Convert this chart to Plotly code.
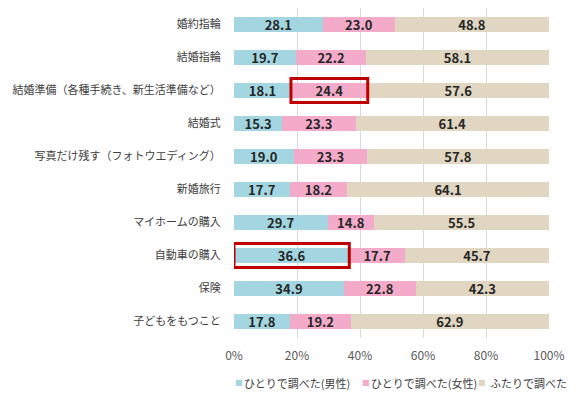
import plotly.graph_objects as go

categories = ["婚約指輪", "結婚指輪", "結婚準備（各種手続き、新生活準備など）", "結婚式",
              "写真だけ残す（フォトウエディング）", "新婚旅行", "マイホームの購入",
              "自動車の購入", "保険", "子どもをもつこと"]
series_names = ["ひとりで調べた(男性)", "ひとりで調べた(女性)", "ふたりで調べた"]
male = [28.1, 19.7, 18.1, 15.3, 19.0, 17.7, 29.7, 36.6, 34.9, 17.8]
female = [23.0, 22.2, 24.4, 23.3, 23.3, 18.2, 14.8, 17.7, 22.8, 19.2]
both = [48.8, 58.1, 57.6, 61.4, 57.8, 64.1, 55.5, 45.7, 42.3, 62.9]
tick_vals = [0, 20, 40, 60, 80, 100]
tick_text = ["0%", "20%", "40%", "60%", "80%", "100%"]
# highlighted cells: (category index, series index)
highlights = [(2, 1), (7, 0)]

colors = ["#a3d6e0", "#f4abca", "#e0d6c1"]
series = [male, female, both]
totals = [m + f + b for m, f, b in zip(male, female, both)]

fig = go.Figure()
for name, vals, col in zip(series_names, series, colors):
    norm = [v / t * 100 for v, t in zip(vals, totals)]
    fig.add_trace(go.Bar(
        y=categories, x=norm, name=name, orientation="h",
        marker=dict(color=col, line=dict(width=0)),
        text=[f"{v:.1f}" for v in vals], textposition="inside",
        insidetextanchor="middle",
        textfont=dict(family="Noto Sans CJK JP", size=13, color="#262626", weight="bold"),
        hoverinfo="skip", showlegend=False,
    ))

half = 0.36
for ci, si in highlights:
    start = sum(series[k][ci] / totals[ci] * 100 for k in range(si))
    end = start + series[si][ci] / totals[ci] * 100
    fig.add_shape(type="rect", xref="x", yref="y",
                  x0=start, x1=end, y0=ci - half, y1=ci + half,
                  line=dict(color="#c00000", width=3), fillcolor="rgba(0,0,0,0)")

# manual legend (small square markers like the original)
marker_x = [0.0143, 0.4206, 0.7873]
text_x = [0.0254, 0.4286, 0.806]
legend_y = -0.136
for name, col, mx, tx in zip(series_names, colors, marker_x, text_x):
    fig.add_annotation(
        xref="paper", yref="paper", x=mx, y=legend_y, xanchor="center", yanchor="middle",
        text="■", showarrow=False,
        font=dict(size=8, color=col, family="DejaVu Sans"),
    )
    fig.add_annotation(
        xref="paper", yref="paper", x=tx, y=legend_y, xanchor="left", yanchor="middle",
        text=name, showarrow=False,
        font=dict(size=11, color="#404040", family="Noto Sans CJK JP"),
    )

fig.update_layout(
    barmode="stack", bargap=0.52,
    width=576, height=389,
    margin=dict(l=226, r=35, t=0, b=59),
    plot_bgcolor="white", paper_bgcolor="white",
    font=dict(family="Noto Sans CJK JP", color="#404040"),
    showlegend=False,
    uniformtext=dict(minsize=8, mode="show"),
)
fig.update_xaxes(range=[0, 100], tickvals=tick_vals, ticktext=tick_text,
                 showgrid=True, gridcolor="#d9d9d9", gridwidth=1, zeroline=False,
                 showline=False, tickfont=dict(size=12, color="#595959"),
                 ticks="outside", ticklen=7, tickcolor="rgba(0,0,0,0)",
                 automargin=False, fixedrange=True)
fig.update_yaxes(autorange="reversed", showgrid=False, showline=False,
                 tickfont=dict(size=11, color="#404040"),
                 ticks="outside", ticklen=10, tickcolor="rgba(0,0,0,0)",
                 automargin=False)

fig.write_html("out.html")
